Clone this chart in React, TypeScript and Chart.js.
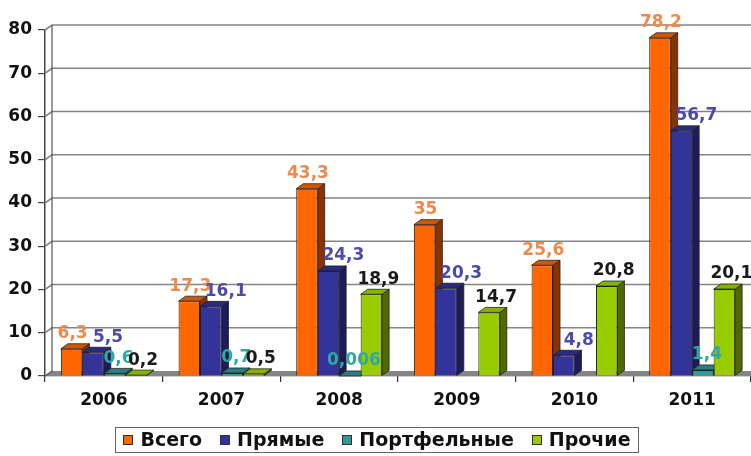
import React, { useEffect, useRef } from 'react';
import { Chart, registerables } from 'chart.js';

Chart.register(...registerables);

const categories = ['2006', '2007', '2008', '2009', '2010', '2011'];
const seriesNames = ['Всего', 'Прямые', 'Портфельные', 'Прочие'];
const totalValues = [6.3, 17.3, 43.3, 35, 25.6, 78.2];
const directValues = [5.5, 16.1, 24.3, 20.3, 4.8, 56.7];
const portfolioValues = [0.6, 0.7, 0.006, null, null, 1.4];
const otherValues = [0.2, 0.5, 18.9, 14.7, 20.8, 20.1];
const yMin = 0;
const yMax = 80;
const yStep = 10;

const FRONT = ['#FF6600', '#333399', '#339999', '#99CC00'];
const SIDE = ['#8A3300', '#1C1C5A', '#1D5A5A', '#4F6A00'];
const TOP = ['#D45500', '#2A2A80', '#2A8080', '#86B300'];
const LABEL_COLORS = ['#EE8A4E', '#4B4BAA', '#2FA8A4', '#1a1a1a'];
const LABEL_DX = [1, 15, 4, 7];
const DX = 7;
const DY = 5;
const FONT = '"DejaVu Sans", Verdana, sans-serif';

const fmt = (v: number) => String(v).replace('.', ',');

const threeD = {
  id: 'threeD',
  beforeDatasetsDraw(chart: any) {
    const { ctx, chartArea, scales } = chart;
    const ys = scales.y;
    const left = chartArea.left;
    const right = chart.width;
    const y0 = ys.getPixelForValue(yMin);
    const yTop = ys.getPixelForValue(yMax);
    ctx.save();
    // floor
    ctx.fillStyle = '#858585';
    ctx.beginPath();
    ctx.moveTo(left, y0);
    ctx.lineTo(left + DX, y0 - DY);
    ctx.lineTo(right, y0 - DY);
    ctx.lineTo(right, y0);
    ctx.closePath();
    ctx.fill();
    // back wall grid lines
    ctx.strokeStyle = '#858585';
    ctx.lineWidth = 1.6;
    ys.ticks.forEach((t: any) => {
      if (t.value === yMin) return;
      const py = ys.getPixelForValue(t.value);
      ctx.beginPath();
      ctx.moveTo(left, py);
      ctx.lineTo(left + DX, py - DY);
      ctx.lineTo(right, py - DY);
      ctx.stroke();
    });
    ctx.strokeStyle = '#555';
    ctx.lineWidth = 1.2;
    ctx.beginPath();
    ctx.moveTo(left + DX, yTop - DY);
    ctx.lineTo(left + DX, y0 - DY);
    ctx.lineTo(left, y0);
    ctx.stroke();
    // bar side and top faces
    ctx.lineWidth = 0.8;
    ctx.strokeStyle = '#222';
    chart.data.datasets.forEach((ds: any, i: number) => {
      const meta = chart.getDatasetMeta(i);
      meta.data.forEach((el: any, j: number) => {
        if (ds.data[j] == null) return;
        const { x, y, base, width } = el.getProps(['x', 'y', 'base', 'width'], true);
        const l = x - width / 2;
        const r = x + width / 2;
        ctx.fillStyle = SIDE[i];
        ctx.beginPath();
        ctx.moveTo(r, base);
        ctx.lineTo(r, y);
        ctx.lineTo(r + DX, y - DY);
        ctx.lineTo(r + DX, base - DY);
        ctx.closePath();
        ctx.fill();
        ctx.stroke();
        ctx.fillStyle = TOP[i];
        ctx.beginPath();
        ctx.moveTo(l, y);
        ctx.lineTo(l + DX, y - DY);
        ctx.lineTo(r + DX, y - DY);
        ctx.lineTo(r, y);
        ctx.closePath();
        ctx.fill();
        ctx.stroke();
      });
    });
    ctx.restore();
  },
  afterDatasetsDraw(chart: any) {
    const { ctx } = chart;
    ctx.save();
    ctx.font = `bold 17px ${FONT}`;
    ctx.textAlign = 'center';
    ctx.textBaseline = 'middle';
    chart.data.datasets.forEach((ds: any, i: number) => {
      const meta = chart.getDatasetMeta(i);
      meta.data.forEach((el: any, j: number) => {
        const v = ds.data[j];
        if (v == null) return;
        const { x, y } = el.getProps(['x', 'y'], true);
        ctx.fillStyle = LABEL_COLORS[i];
        ctx.fillText(fmt(v), x + LABEL_DX[i], y - 15);
      });
    });
    ctx.restore();
  },
  afterDraw(chart: any) {
    // legend
    const { ctx } = chart;
    const sq = 10;
    const gapText = 7;
    const gapItem = 18;
    const cx = 377;
    const cy = 440;
    ctx.save();
    ctx.font = `bold 19px ${FONT}`;
    ctx.textBaseline = 'middle';
    ctx.textAlign = 'left';
    const names = chart.data.datasets.map((d: any) => d.label);
    const widths = names.map((n: string) => ctx.measureText(n).width);
    const total = widths.reduce((a: number, w: number) => a + sq + gapText + w, 0) + gapItem * (names.length - 1);
    let x = cx - total / 2;
    const boxL = Math.round(x - 8) + 0.5;
    const boxR = Math.round(x + total + 7) + 0.5;
    ctx.fillStyle = '#fff';
    ctx.strokeStyle = '#666';
    ctx.lineWidth = 1;
    ctx.fillRect(boxL, 427.5, boxR - boxL, 25);
    ctx.strokeRect(boxL, 427.5, boxR - boxL, 25);
    names.forEach((n: string, i: number) => {
      ctx.fillStyle = FRONT[i];
      ctx.fillRect(Math.round(x), Math.round(cy - sq / 2), sq, sq);
      ctx.strokeStyle = '#333';
      ctx.strokeRect(Math.round(x) + 0.5, Math.round(cy - sq / 2) + 0.5, sq - 1, sq - 1);
      x += sq + gapText;
      ctx.fillStyle = '#111';
      ctx.fillText(n, x, cy + 1);
      x += widths[i] + gapItem;
    });
    ctx.restore();
  },
};

export default function App() {
  const ref = useRef<HTMLCanvasElement>(null);
  useEffect(() => {
    document.body.style.margin = '0';
    document.body.style.overflow = 'hidden';
    const canvas = ref.current;
    if (!canvas) return;
    const seriesValues = [totalValues, directValues, portfolioValues, otherValues];
    const chart = new Chart(canvas, {
      type: 'bar',
      data: {
        labels: categories,
        datasets: seriesNames.map((name, i) => ({
          label: name,
          data: seriesValues[i] as any,
          backgroundColor: FRONT[i],
          borderColor: '#222',
          borderWidth: 1,
          categoryPercentage: 0.73,
          barPercentage: 1.0,
        })),
      },
      options: {
        animation: false,
        responsive: false,
        maintainAspectRatio: false,
        layout: { padding: { left: 0, right: 0, top: 30, bottom: 0 } },
        plugins: {
          tooltip: { enabled: false },
          legend: { display: false },
        },
        scales: {
          x: {
            offset: true,
            grid: { display: true, offset: true, drawOnChartArea: false, drawTicks: true, tickLength: 6, color: '#333', lineWidth: 1.2 },
            border: { display: true, color: '#444', width: 1.2 },
            ticks: { font: { family: FONT, size: 17, weight: 'bold' }, color: '#111', padding: 8, maxRotation: 0 },
            afterFit: (s: any) => { s.height = 80; },
          },
          y: {
            min: yMin,
            max: yMax,
            grid: { display: true, drawOnChartArea: false, drawTicks: true, tickLength: 7, color: '#444', lineWidth: 1.2 },
            border: { display: true, color: '#444', width: 1.5 },
            ticks: { stepSize: yStep, font: { family: FONT, size: 17, weight: 'bold' }, color: '#111', padding: 6 },
            afterFit: (s: any) => { s.width = 45; },
          },
        },
      },
      plugins: [threeD],
    });
    return () => chart.destroy();
  }, []);
  return (
    <div style={{ width: 751, height: 456 }}>
      <canvas ref={ref} width={751} height={456} style={{ display: 'block' }} />
    </div>
  );
}
